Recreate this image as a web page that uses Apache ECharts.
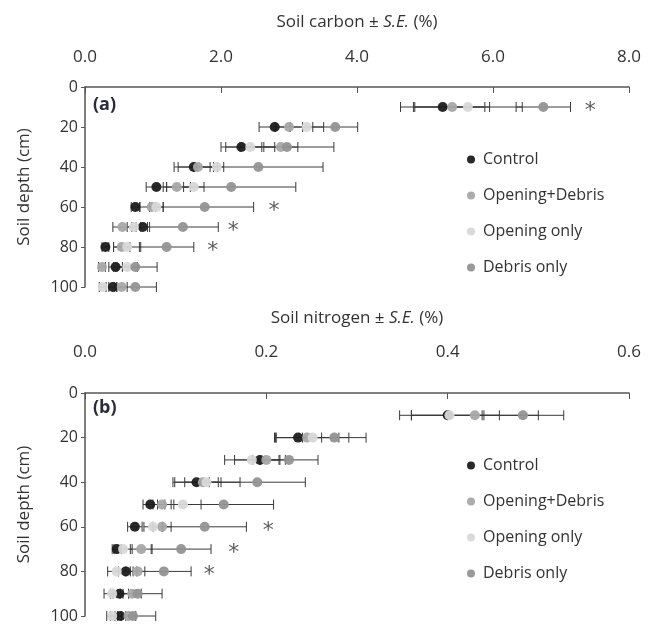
<!DOCTYPE html>
<html>
<head>
<meta charset="utf-8">
<script src="https://cdn.jsdelivr.net/npm/echarts@6/dist/echarts.min.js"></script>
<style>
  html, body { margin: 0; padding: 0; background: #fff; }
  #chart { width: 649px; height: 628px; }
</style>
</head>
<body>
<div id="chart"></div>
<script>
const depths = [10, 20, 30, 40, 50, 60, 70, 80, 90, 100]
const treatments = ['Control', 'Opening+Debris', 'Opening only', 'Debris only']
const colors = ['#1c1c1c', '#a8a8a8', '#d8d8d8', '#939393']

// soil carbon (%) mean and S.E., per treatment, depth 10..100
const carbonControl = [5.26, 2.79, 2.30, 1.60, 1.05, 0.74, 0.85, 0.30, 0.45, 0.41]
const carbonControlSE = [0.62, 0.23, 0.30, 0.29, 0.15, 0.06, 0.10, 0.05, 0.10, 0.06]
const carbonOpenDebris = [5.40, 3.00, 2.88, 1.66, 1.35, 0.98, 0.55, 0.54, 0.25, 0.54]
const carbonOpenDebrisSE = [0.55, 0.20, 0.25, 0.29, 0.20, 0.17, 0.14, 0.12, 0.05, 0.08]
const carbonOpening = [5.63, 3.26, 2.43, 1.94, 1.60, 1.05, 0.72, 0.62, 0.62, 0.26]
const carbonOpeningSE = [0.80, 0.25, 0.36, 0.10, 0.15, 0.10, 0.10, 0.20, 0.15, 0.05]
const carbonDebris = [6.74, 3.68, 2.97, 2.55, 2.15, 1.76, 1.44, 1.20, 0.74, 0.74]
const carbonDebrisSE = [0.40, 0.33, 0.69, 0.95, 0.95, 0.72, 0.52, 0.40, 0.32, 0.31]
const carbonStarX = [7.43, 2.78, 2.18, 1.88]
const carbonStarDepth = [10, 60, 70, 80]

// soil nitrogen (%)
const nitrogenControl = [0.400, 0.235, 0.193, 0.123, 0.072, 0.055, 0.035, 0.045, 0.038, 0.039]
const nitrogenControlSE = [0.040, 0.026, 0.028, 0.024, 0.008, 0.008, 0.005, 0.008, 0.010, 0.006]
const nitrogenOpenDebris = [0.430, 0.245, 0.200, 0.130, 0.085, 0.085, 0.062, 0.058, 0.052, 0.048]
const nitrogenOpenDebrisSE = [0.070, 0.035, 0.015, 0.020, 0.010, 0.010, 0.012, 0.008, 0.010, 0.008]
const nitrogenOpening = [0.402, 0.251, 0.184, 0.134, 0.108, 0.075, 0.042, 0.035, 0.030, 0.030]
const nitrogenOpeningSE = [0.055, 0.040, 0.030, 0.037, 0.020, 0.010, 0.010, 0.010, 0.009, 0.006]
const nitrogenDebris = [0.483, 0.275, 0.225, 0.190, 0.153, 0.132, 0.106, 0.087, 0.058, 0.053]
const nitrogenDebrisSE = [0.045, 0.035, 0.032, 0.053, 0.055, 0.046, 0.033, 0.030, 0.027, 0.025]
const nitrogenStarX = [0.202, 0.164, 0.137]
const nitrogenStarDepth = [60, 70, 80]

const carbonTicks = ['0.0', '2.0', '4.0', '6.0', '8.0']
const nitrogenTicks = ['0.0', '0.2', '0.4', '0.6']

const font = 'Open Sans'
const chart = echarts.init(document.getElementById('chart'))

function errorSeries(idx, means, ses) {
  return {
    type: 'custom',
    xAxisIndex: idx,
    yAxisIndex: idx,
    z: 2,
    silent: true,
    data: means.map((m, i) => [m - ses[i], m + ses[i], depths[i]]),
    renderItem(params, api) {
      const a = api.coord([api.value(0), api.value(2)])
      const b = api.coord([api.value(1), api.value(2)])
      const h = 5
      const style = { stroke: '#3a3a3a', lineWidth: 1 }
      return {
        type: 'group',
        children: [
          { type: 'line', shape: { x1: a[0], y1: a[1], x2: b[0], y2: b[1] }, style },
          { type: 'line', shape: { x1: a[0], y1: a[1] - h, x2: a[0], y2: a[1] + h }, style },
          { type: 'line', shape: { x1: b[0], y1: b[1] - h, x2: b[0], y2: b[1] + h }, style }
        ]
      }
    }
  }
}

function pointSeries(idx, name, means, color) {
  return {
    type: 'scatter',
    name,
    xAxisIndex: idx,
    yAxisIndex: idx,
    z: 3,
    symbol: 'circle',
    symbolSize: 10,
    itemStyle: { color, opacity: 0.95 },
    data: means.map((m, i) => [m, depths[i]])
  }
}

function starSeries(idx, xs, ds) {
  return {
    type: 'scatter',
    xAxisIndex: idx,
    yAxisIndex: idx,
    z: 4,
    silent: true,
    symbolSize: 1,
    itemStyle: { color: 'transparent' },
    label: {
      show: true, position: 'inside', formatter: '*',
      fontSize: 22, color: '#333', fontFamily: 'DejaVu Sans', offset: [0, 4]
    },
    data: xs.map((x, i) => [x, ds[i]])
  }
}

const carbonSets = [
  [carbonControl, carbonControlSE],
  [carbonOpenDebris, carbonOpenDebrisSE],
  [carbonOpening, carbonOpeningSE],
  [carbonDebris, carbonDebrisSE]
]
const nitrogenSets = [
  [nitrogenControl, nitrogenControlSE],
  [nitrogenOpenDebris, nitrogenOpenDebrisSE],
  [nitrogenOpening, nitrogenOpeningSE],
  [nitrogenDebris, nitrogenDebrisSE]
]

const series = []
;[carbonSets, nitrogenSets].forEach((sets, idx) => {
  sets.forEach(([m, se]) => series.push(errorSeries(idx, m, se)))
  sets.forEach(([m], k) => series.push(pointSeries(idx, treatments[k], m, colors[k])))
})
series.push(starSeries(0, carbonStarX, carbonStarDepth))
series.push(starSeries(1, nitrogenStarX, nitrogenStarDepth))

const nameRich = {
  n: { fontSize: 17, color: '#333', fontFamily: font },
  i: { fontSize: 17, color: '#333', fontFamily: font, fontStyle: 'italic' }
}

function xAxis(idx, label, max, interval, ticks, nameGap, margin) {
  return {
    type: 'value',
    gridIndex: idx,
    position: 'top',
    name: '{n|' + label + ' ± }{i|S.E.}{n| (%)}',
    nameLocation: 'middle',
    nameGap,
    nameTextStyle: { rich: nameRich },
    min: 0,
    max,
    interval,
    axisLine: { show: true, lineStyle: { color: '#555', width: 1.5 } },
    axisTick: { show: true, inside: true, length: 6, lineStyle: { color: '#555' } },
    splitLine: { show: false },
    axisLabel: {
      fontSize: 17, color: '#333', fontFamily: font, margin,
      formatter: (v) => ticks[Math.round(v / interval)]
    }
  }
}

function yAxis(idx) {
  return {
    type: 'value',
    gridIndex: idx,
    inverse: true,
    min: 0,
    max: 100,
    interval: 20,
    name: 'Soil depth (cm)',
    nameLocation: 'middle',
    nameGap: 52,
    nameTextStyle: { fontSize: 17, color: '#333', fontFamily: font },
    axisLine: { show: true, lineStyle: { color: '#555', width: 1.5 } },
    axisTick: { show: true, length: 4, lineStyle: { color: '#555' } },
    splitLine: { show: false },
    axisLabel: { fontSize: 16, color: '#333', fontFamily: font, margin: 7 }
  }
}

function legend(top) {
  return {
    orient: 'vertical',
    left: 462,
    top,
    itemGap: 13,
    itemWidth: 8,
    itemHeight: 8,
    icon: 'circle',
    selectedMode: false,
    textStyle: { fontSize: 16, color: '#333', fontFamily: font, lineHeight: 23, padding: [0, 0, 0, 3] },
    data: treatments
  }
}

chart.setOption({
  animation: false,
  backgroundColor: '#fff',
  title: [
    { text: '(a)', left: 88, top: 91, textStyle: { fontSize: 18, fontWeight: 'bold', color: '#2a2a3a', fontFamily: font } },
    { text: '(b)', left: 88, top: 394, textStyle: { fontSize: 18, fontWeight: 'bold', color: '#2a2a3a', fontFamily: font } }
  ],
  legend: [legend(143), legend(449)],
  grid: [
    { left: 85, right: 20, top: 87, height: 200 },
    { left: 85, right: 20, top: 393, height: 223 }
  ],
  xAxis: [
    xAxis(0, 'Soil carbon', 8, 2, carbonTicks, 56, 21),
    xAxis(1, 'Soil nitrogen', 0.6, 0.2, nitrogenTicks, 66, 32)
  ],
  yAxis: [yAxis(0), yAxis(1)],
  series
})
</script>
</body>
</html>
